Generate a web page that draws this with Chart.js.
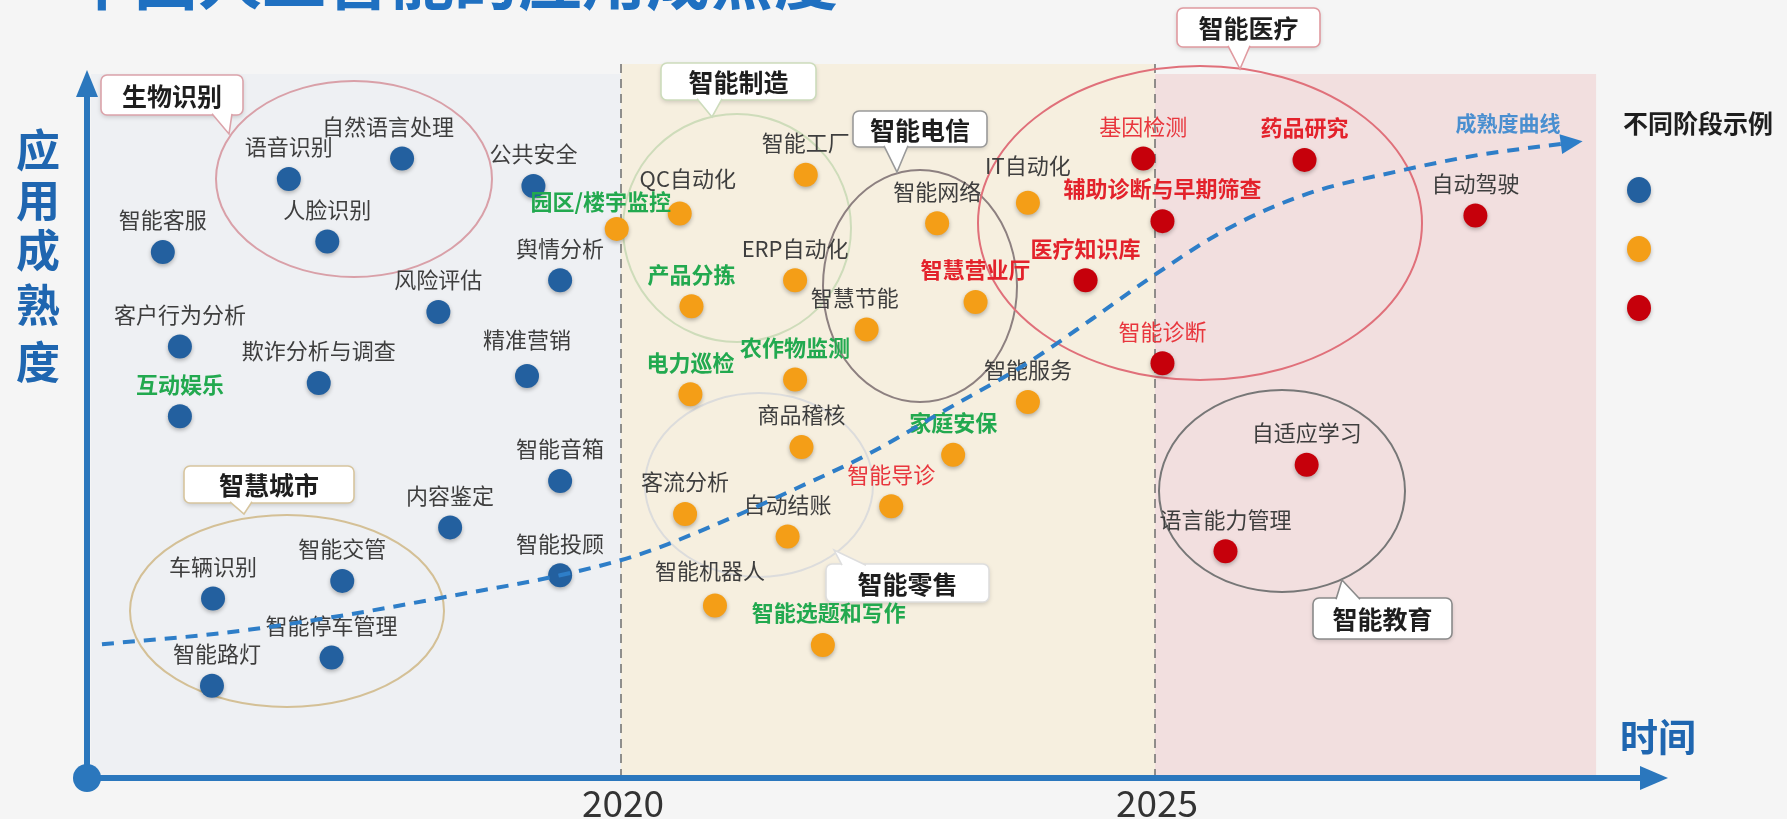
<!DOCTYPE html>
<html>
<head>
<meta charset="utf-8">
<title>应用成熟度</title>
<script src="https://cdn.jsdelivr.net/npm/chart.js@4.4.1/dist/chart.umd.min.js"></script>
<style>
  html, body { margin: 0; padding: 0; background: #f5f5f5; }
  #wrap { width: 1787px; height: 819px; }
</style>
</head>
<body>
<div id="wrap"><canvas id="chart" width="1787" height="819"></canvas></div>
<script>
// 第一阶段（蓝色）
var stage1Names = ['语音识别', '自然语言处理', '人脸识别', '公共安全', '智能客服', '舆情分析', '风险评估',
    '客户行为分析', '欺诈分析与调查', '精准营销', '互动娱乐', '智能音箱', '内容鉴定', '智能投顾',
    '车辆识别', '智能交管', '智能停车管理', '智能路灯'];
var stage1X = [2016.89, 2017.95, 2017.25, 2019.18, 2015.71, 2019.43, 2018.29,
    2015.87, 2017.17, 2019.12, 2015.87, 2019.43, 2018.40, 2019.43,
    2016.18, 2017.39, 2017.29, 2016.17];
var stage1Y = [85.1, 88.0, 76.2, 84.1, 74.7, 70.7, 66.2,
    61.3, 56.1, 57.1, 51.4, 42.2, 35.6, 28.8,
    25.5, 28.0, 17.1, 13.1];

// 第二阶段（橙色）
var stage2Names = ['园区/楼宇监控', 'QC自动化', '智能工厂', 'ERP自动化', '产品分拣', '智能网络', '智慧节能',
    '智慧营业厅', 'IT自动化', '电力巡检', '农作物监测', '智能服务', '商品稽核', '家庭安保',
    '客流分析', '智能导诊', '自动结账', '智能机器人', '智能选题和写作'];
var stage2X = [2019.96, 2020.55, 2021.73, 2021.63, 2020.66, 2022.96, 2022.30,
    2023.32, 2023.81, 2020.65, 2021.63, 2023.81, 2021.69, 2023.11,
    2020.60, 2022.53, 2021.56, 2020.88, 2021.89];
var stage2Y = [78.0, 80.2, 85.7, 70.7, 67.0, 78.8, 63.7,
    67.6, 81.7, 54.5, 56.6, 53.4, 47.0, 45.9,
    37.5, 38.6, 34.3, 24.5, 18.9];

// 第三阶段（红色）
var stage3Names = ['基因检测', '药品研究', '辅助诊断与早期筛查', '医疗知识库', '智能诊断', '自动驾驶',
    '自适应学习', '语言能力管理'];
var stage3X = [2024.89, 2026.40, 2025.07, 2024.35, 2025.07, 2028.0, 2026.42, 2025.66];
var stage3Y = [88.0, 87.8, 79.1, 70.7, 58.9, 79.9, 44.5, 32.2];

// 成熟度曲线
var curveX = [2015.14, 2016.33, 2017.40, 2018.46, 2019.43, 2020.16, 2021.01, 2021.65, 2022.29,
    2023.03, 2023.78, 2024.41, 2025.0, 2025.69, 2026.43, 2027.28, 2028.03, 2028.93];
var curveY = [19.0, 20.7, 23.1, 26.0, 28.8, 31.7, 36.8, 41.2, 45.8,
    52.2, 58.7, 65.2, 71.5, 78.1, 83.0, 86.2, 88.5, 90.3];

// 时间轴刻度与阶段
var xTicks = [2020, 2025];
var phaseStart = [2015, 2020, 2025];
var phaseEnd = [2020, 2025, 2029.13];

var FONT = '"Noto Sans CJK SC", "Noto Sans", sans-serif';
var AXIS_BLUE = '#2b77bd';
var phaseColors = ['#eef0f3', '#f6efdf', '#f2dfdf'];
var phaseTop = [74, 64, 74];

var greenLabels = ['互动娱乐', '园区/楼宇监控', '产品分拣', '电力巡检', '农作物监测', '家庭安保', '智能选题和写作'];
var redBoldLabels = ['智慧营业厅', '药品研究', '辅助诊断与早期筛查', '医疗知识库'];
var redLabels = ['基因检测', '智能诊断', '智能导诊'];
var labelOffsets = {
    '园区/楼宇监控': [-16, -27], 'QC自动化': [8, -35], '自然语言处理': [-14, -32],
    '智慧节能': [-12, -32], 'IT自动化': [0, -37], '精准营销': [0, -36],
    '智能机器人': [-5, -35], '智能选题和写作': [6, -32], '智能路灯': [5, -32]
};

// 分组椭圆与标注框（像素）
var groups = [
    { cx: 354, cy: 179, rx: 138, ry: 98, color: '#d9a0a8' },
    { cx: 287, cy: 611, rx: 157, ry: 96, color: '#d4c096' },
    { cx: 737, cy: 228, rx: 114, ry: 114, color: '#cedcba' },
    { cx: 920, cy: 286, rx: 97, ry: 116, color: '#8d8080' },
    { cx: 759, cy: 485, rx: 114, ry: 92, color: '#dcdcdc' },
    { cx: 1200, cy: 223, rx: 222, ry: 157, color: '#e0707a' },
    { cx: 1282, cy: 491, rx: 123, ry: 101, color: '#777777' }
];
var callouts = [
    { text: '生物识别', x: 101, y: 75, w: 142, h: 40, color: '#dba3aa', edge: 'bottom', b1: 212, b2: 232, tx: 229, ty: 134 },
    { text: '智慧城市', x: 184, y: 466, w: 170, h: 37, color: '#d7c59e', edge: 'bottom', b1: 230, b2: 252, tx: 244, ty: 514 },
    { text: '智能制造', x: 661, y: 63, w: 155, h: 37, color: '#cddcbc', edge: 'bottom', b1: 697, b2: 722, tx: 712, ty: 117 },
    { text: '智能电信', x: 853, y: 111, w: 134, h: 36, color: '#9a9a9a', edge: 'bottom', b1: 884, b2: 908, tx: 897, ty: 172 },
    { text: '智能零售', x: 826, y: 564, w: 163, h: 38, color: '#dedede', edge: 'top', b1: 842, b2: 866, tx: 834, ty: 550 },
    { text: '智能医疗', x: 1177, y: 8, w: 143, h: 39, color: '#e09aa0', edge: 'bottom', b1: 1228, b2: 1250, tx: 1240, ty: 69 },
    { text: '智能教育', x: 1313, y: 598, w: 139, h: 41, color: '#8a8a8a', edge: 'top', b1: 1336, b2: 1360, tx: 1342, ty: 580 }
];

function toPoints(xs, ys) {
    return xs.map(function(x, i) { return { x: x, y: ys[i] }; });
}

function drawCallout(ctx, c) {
    ctx.save();
    ctx.shadowColor = 'rgba(0,0,0,0.18)';
    ctx.shadowBlur = 5;
    ctx.shadowOffsetY = 2;
    ctx.beginPath();
    ctx.roundRect(c.x, c.y, c.w, c.h, 6);
    ctx.fillStyle = '#ffffff';
    ctx.fill();
    ctx.shadowColor = 'transparent';
    ctx.strokeStyle = c.color;
    ctx.lineWidth = 1.6;
    ctx.stroke();
    var by = c.edge === 'bottom' ? c.y + c.h - 1.2 : c.y + 1.2;
    ctx.beginPath();
    ctx.moveTo(c.b1, by);
    ctx.lineTo(c.tx, c.ty);
    ctx.lineTo(c.b2, by);
    ctx.fill();
    ctx.stroke();
    ctx.fillStyle = '#1e1e1e';
    ctx.font = 'bold 25px ' + FONT;
    ctx.textAlign = 'center';
    ctx.textBaseline = 'middle';
    ctx.fillText(c.text, c.x + c.w / 2, c.y + c.h / 2 + 1);
    ctx.restore();
}

function drawLabels(chart) {
    var ctx = chart.ctx;
    ctx.save();
    ctx.textAlign = 'center';
    ctx.textBaseline = 'middle';
    chart.data.datasets.forEach(function(ds, di) {
        if (!ds.names) return;
        var meta = chart.getDatasetMeta(di);
        ds.names.forEach(function(name, i) {
            var pt = meta.data[i];
            var off = labelOffsets[name] || [0, -32];
            var color = '#3e3e3e', weight = 'normal';
            if (greenLabels.indexOf(name) >= 0) { color = '#22a94f'; weight = 'bold'; }
            else if (redBoldLabels.indexOf(name) >= 0) { color = '#e3222b'; weight = 'bold'; }
            else if (redLabels.indexOf(name) >= 0) { color = '#e8363d'; }
            ctx.font = weight + ' 22px ' + FONT;
            ctx.fillStyle = color;
            ctx.fillText(name, pt.x + off[0], pt.y + off[1]);
        });
    });
    ctx.restore();
}

var backdrop = {
    id: 'backdrop',
    beforeDraw: function(chart) {
        var ctx = chart.ctx, xs = chart.scales.x, area = chart.chartArea;
        ctx.save();
        ctx.fillStyle = '#f5f5f5';
        ctx.fillRect(0, 0, chart.width, chart.height);

        // 标题（上方被裁切）
        ctx.fillStyle = '#1f70c1';
        ctx.font = 'bold 64px ' + FONT;
        ctx.textAlign = 'left';
        ctx.textBaseline = 'alphabetic';
        ctx.fillText('中国人工智能的应用成熟度', 70, 4);

        // 阶段背景
        phaseStart.forEach(function(s, i) {
            var x0 = Math.max(xs.getPixelForValue(s), area.left + 4);
            var x1 = xs.getPixelForValue(phaseEnd[i]);
            ctx.fillStyle = phaseColors[i];
            ctx.fillRect(x0, phaseTop[i], x1 - x0, area.bottom - phaseTop[i]);
        });

        // 分界虚线
        ctx.strokeStyle = '#6f6f6f';
        ctx.lineWidth = 1.5;
        ctx.setLineDash([9, 6]);
        xTicks.forEach(function(t) {
            var x = xs.getPixelForValue(t);
            ctx.beginPath();
            ctx.moveTo(x, 64);
            ctx.lineTo(x, area.bottom);
            ctx.stroke();
        });
        ctx.setLineDash([]);
        ctx.restore();
    },
    beforeDatasetsDraw: function(chart) {
        var ctx = chart.ctx;
        ctx.save();
        groups.forEach(function(g) {
            ctx.beginPath();
            ctx.ellipse(g.cx, g.cy, g.rx, g.ry, 0, 0, Math.PI * 2);
            ctx.strokeStyle = g.color;
            ctx.lineWidth = 2;
            ctx.stroke();
        });
        ctx.restore();
        callouts.forEach(function(c) { drawCallout(ctx, c); });
    },
    beforeDatasetDraw: function(chart, args) {
        var ds = chart.data.datasets[args.index];
        if (ds.names) {
            chart.ctx.save();
            chart.ctx.shadowColor = 'rgba(0,0,0,0.28)';
            chart.ctx.shadowBlur = 4;
            chart.ctx.shadowOffsetY = 2;
        } else {
            drawLabels(chart);
        }
    },
    afterDatasetDraw: function(chart, args) {
        var ds = chart.data.datasets[args.index];
        if (ds.names) chart.ctx.restore();
    },
    afterDatasetsDraw: function(chart) {
        var ctx = chart.ctx, xs = chart.scales.x, area = chart.chartArea;
        ctx.save();

        // 曲线箭头
        var meta = chart.getDatasetMeta(3);
        var n = meta.data.length;
        var p1 = meta.data[n - 2], p2 = meta.data[n - 1];
        var ang = Math.atan2(p2.y - p1.y, p2.x - p1.x);
        var tipX = p2.x + Math.cos(ang) * 8, tipY = p2.y + Math.sin(ang) * 8;
        ctx.fillStyle = '#2e7ec8';
        ctx.beginPath();
        ctx.moveTo(tipX, tipY);
        ctx.lineTo(tipX - Math.cos(ang) * 22 + Math.sin(ang) * 10, tipY - Math.sin(ang) * 22 - Math.cos(ang) * 10);
        ctx.lineTo(tipX - Math.cos(ang) * 22 - Math.sin(ang) * 10, tipY - Math.sin(ang) * 22 + Math.cos(ang) * 10);
        ctx.closePath();
        ctx.fill();

        ctx.textAlign = 'center';
        ctx.textBaseline = 'middle';
        ctx.fillStyle = '#4a8fd0';
        ctx.font = 'bold 21px ' + FONT;
        ctx.fillText('成熟度曲线', 1508, 123);

        // 坐标轴
        ctx.strokeStyle = AXIS_BLUE;
        ctx.fillStyle = AXIS_BLUE;
        ctx.lineWidth = 6;
        ctx.beginPath();
        ctx.moveTo(area.left, area.bottom);
        ctx.lineTo(area.left, 92);
        ctx.moveTo(area.left, area.bottom);
        ctx.lineTo(1645, area.bottom);
        ctx.stroke();
        ctx.beginPath();
        ctx.moveTo(area.left, 70);
        ctx.lineTo(area.left - 11, 97);
        ctx.lineTo(area.left + 11, 97);
        ctx.closePath();
        ctx.fill();
        ctx.beginPath();
        ctx.moveTo(1668, area.bottom);
        ctx.lineTo(1640, area.bottom - 12);
        ctx.lineTo(1640, area.bottom + 12);
        ctx.closePath();
        ctx.fill();
        ctx.beginPath();
        ctx.arc(area.left, area.bottom, 14, 0, Math.PI * 2);
        ctx.fill();

        // 刻度文字
        ctx.fillStyle = '#333333';
        ctx.font = '37px ' + FONT;
        ctx.textBaseline = 'alphabetic';
        xTicks.forEach(function(t) {
            ctx.fillText(String(t), xs.getPixelForValue(t) + 2, 817);
        });

        // 轴标题
        ctx.fillStyle = '#1f66b0';
        ctx.font = 'bold 44px ' + FONT;
        ctx.textBaseline = 'middle';
        var yTitle = ['应', '用', '成', '熟', '度'];
        var yPos = [150, 200, 250, 305, 362];
        yTitle.forEach(function(ch, i) { ctx.fillText(ch, 38, yPos[i]); });
        ctx.font = 'bold 38px ' + FONT;
        ctx.fillText('时间', 1658, 737);

        // 图例
        ctx.fillStyle = '#1e1e1e';
        ctx.font = 'bold 25px ' + FONT;
        ctx.fillText('不同阶段示例', 1698, 123);
        var legendY = [190, 249, 308];
        ctx.shadowColor = 'rgba(0,0,0,0.25)';
        ctx.shadowBlur = 4;
        ctx.shadowOffsetY = 2;
        [0, 1, 2].forEach(function(di, i) {
            ctx.fillStyle = chart.data.datasets[di].backgroundColor;
            ctx.beginPath();
            ctx.ellipse(1639, legendY[i], 12, 13, 0, 0, Math.PI * 2);
            ctx.fill();
        });
        ctx.restore();
    }
};

var ctx = document.getElementById('chart').getContext('2d');
new Chart(ctx, {
    type: 'scatter',
    data: {
        datasets: [
            { label: '阶段一', names: stage1Names, data: toPoints(stage1X, stage1Y),
              backgroundColor: '#23609f', borderWidth: 0, pointRadius: 12, order: 1 },
            { label: '阶段二', names: stage2Names, data: toPoints(stage2X, stage2Y),
              backgroundColor: '#f49e17', borderWidth: 0, pointRadius: 12, order: 1 },
            { label: '阶段三', names: stage3Names, data: toPoints(stage3X, stage3Y),
              backgroundColor: '#c6000b', borderWidth: 0, pointRadius: 12, order: 1 },
            { type: 'line', label: '成熟度曲线', data: toPoints(curveX, curveY),
              borderColor: '#2e7ec8', borderWidth: 4, borderDash: [12, 9],
              pointRadius: 0, fill: false, cubicInterpolationMode: 'monotone', order: 0 }
        ]
    },
    options: {
        responsive: false,
        animation: false,
        devicePixelRatio: 1,
        events: [],
        layout: { padding: { left: 87, right: 98, top: 74, bottom: 41 } },
        scales: {
            x: { type: 'linear', min: 2015, max: 2030, display: false },
            y: { type: 'linear', min: 0, max: 100, display: false }
        },
        plugins: {
            legend: { display: false },
            tooltip: { enabled: false }
        }
    },
    plugins: [backdrop]
});
</script>
</body>
</html>
